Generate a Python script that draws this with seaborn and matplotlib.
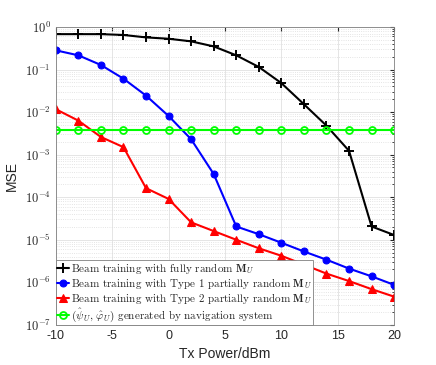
import numpy as np
import pandas as pd
import matplotlib
matplotlib.use("Agg")
import matplotlib.pyplot as plt
import seaborn as sns
from matplotlib.ticker import LogLocator, NullFormatter, FixedLocator

tx_power = [-10, -8, -6, -4, -2, 0, 2, 4, 6, 8, 10, 12, 14, 16, 18, 20]
mse_fully = [0.68, 0.68, 0.68, 0.65, 0.57, 0.53, 0.46, 0.35, 0.216, 0.115, 0.048,
             0.0153, 0.0048, 0.00123, 2.05e-5, 1.29e-5]
mse_type1 = [0.283, 0.216, 0.128, 0.061, 0.0244, 0.0081, 0.0023, 3.5e-4, 2.05e-5,
             1.35e-5, 8.5e-6, 5.3e-6, 3.4e-6, 2.1e-6, 1.38e-6, 8.7e-7]
mse_type2 = [0.0117, 0.0063, 0.0026, 0.0015, 1.63e-4, 9.1e-5, 2.56e-5, 1.6e-5, 1.0e-5,
             6.3e-6, 4.2e-6, 2.6e-6, 1.6e-6, 1.07e-6, 6.9e-7, 4.6e-7]
mse_nav = [0.0037] * 16

labels = [r"Beam training with fully random $\mathbf{M}_U$",
          r"Beam training with Type 1 partially random $\mathbf{M}_U$",
          r"Beam training with Type 2 partially random $\mathbf{M}_U$",
          r"$(\hat{\psi}_U,\, \hat{\varphi}_U)$ generated by navigation system"]
colors = ["black", "#0000ff", "#ff0000", "#00ff00"]
markers = ["+", "o", "^", "o"]
x_ticks = [-10, -5, 0, 5, 10, 15, 20]

sns.set_style("white")
plt.rcParams["mathtext.fontset"] = "cm"
plt.rcParams["font.family"] = ["Liberation Sans", "DejaVu Sans"]
plt.rcParams["axes.unicode_minus"] = False

fig = plt.figure(figsize=(4.36, 3.65), dpi=100)
ax = fig.add_axes([0.128, 0.110, 0.776, 0.816])

series = [mse_fully, mse_type1, mse_type2, mse_nav]
for vals, lab, c, m in zip(series, labels, colors, markers):
    df = pd.DataFrame({"x": tx_power, "y": vals})
    kw = dict(marker=m, color=c, linewidth=1.5, label=lab, linestyle="-")
    if m == "+":
        kw.update(markersize=6.5, markeredgewidth=1.4, markeredgecolor=c)
    elif c == "#00ff00":
        kw.update(markerfacecolor="none", markeredgecolor=c, markeredgewidth=1.3, markersize=5)
    elif m == "^":
        kw.update(markerfacecolor=c, markeredgecolor=c, markersize=5.5)
    else:
        kw.update(markerfacecolor=c, markeredgecolor=c, markersize=5)
    sns.lineplot(data=df, x="x", y="y", ax=ax, **kw)

ax.set_yscale("log")
ax.set_xlim(-10, 20)
ax.set_ylim(1e-7, 1)
ax.xaxis.set_major_locator(FixedLocator(x_ticks))
ax.set_xticklabels([str(t) for t in x_ticks])
ax.yaxis.set_minor_locator(LogLocator(base=10, subs=np.arange(2, 10), numticks=100))
ax.yaxis.set_minor_formatter(NullFormatter())
ax.set_yticks([10.0 ** k for k in range(-7, 1)])
ax.set_yticklabels([r"$10^{%d}$" % k for k in range(-7, 1)])

ax.grid(True, which="major", color="#e0e0e0", linewidth=0.6)
ax.grid(True, which="minor", axis="y", color="#dcdcdc", linestyle=":", linewidth=0.6)
ax.tick_params(axis="both", which="both", direction="in", top=True, right=True,
               labelsize=9, colors="#262626", length=3)
ax.tick_params(which="minor", length=1.5)
for s in ax.spines.values():
    s.set_color("#808080")
    s.set_linewidth(0.6)

ax.set_xlabel("Tx Power/dBm", fontsize=10, color="#262626")
ax.set_ylabel("MSE", fontsize=10, color="#262626")

leg = ax.legend(loc="lower left", bbox_to_anchor=(0, 0), borderaxespad=0.0,
                prop={"family": "cmr10", "size": 8.0}, handlelength=1.1,
                handletextpad=0.2, labelspacing=0.0, borderpad=0.1,
                fancybox=False, framealpha=1, edgecolor="#808080")
leg.get_frame().set_linewidth(0.6)
for h in leg.legend_handles:
    h.set_linestyle("-")

fig.savefig("out.png", dpi=100)
